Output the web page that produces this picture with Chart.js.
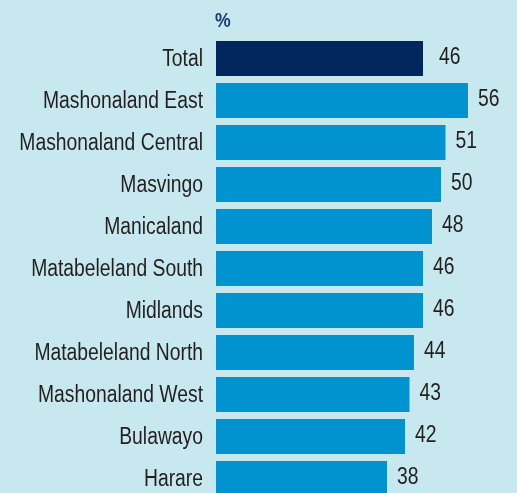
<!DOCTYPE html>
<html>
<head>
<meta charset="utf-8">
<script src="https://cdn.jsdelivr.net/npm/chart.js@4"></script>
<style>
  html, body { margin: 0; padding: 0; background: #c6e8ee; overflow: hidden; }
  #wrap { width: 517px; height: 493px; overflow: hidden; }
</style>
</head>
<body>
<div id="wrap"><canvas id="chart-0" width="517" height="520"></canvas></div>
<script>
const regions = ["Total", "Mashonaland East", "Mashonaland Central", "Masvingo", "Manicaland",
  "Matabeleland South", "Midlands", "Matabeleland North", "Mashonaland West", "Bulawayo", "Harare"];
const percents = [46, 56, 51, 50, 48, 46, 46, 44, 43, 42, 38];
const unitLabel = "%";

const FONT = "'Liberation Sans Narrow', 'Arial Narrow', 'Liberation Sans', sans-serif";
const SQUEEZE = 0.84; // fake the condensed face of the original

// region names, bar values and the "%" unit, drawn narrow
const narrowText = {
  id: "narrowText",
  afterDatasetsDraw(chart) {
    const ctx = chart.ctx;
    const meta = chart.getDatasetMeta(0);
    const yScale = chart.scales.y;
    ctx.save();
    ctx.scale(SQUEEZE, 1);
    ctx.font = "23px " + FONT;
    ctx.fillStyle = "#231f20";
    ctx.textBaseline = "middle";

    ctx.textAlign = "right";
    regions.forEach((name, i) => {
      const y = yScale.getPixelForTick(i);
      ctx.fillText(name, (chart.chartArea.left - 13) / SQUEEZE, y + 1);
    });

    ctx.textAlign = "left";
    meta.data.forEach((bar, i) => {
      const gap = i === 0 ? 16 : 10;
      ctx.fillText(String(percents[i]), (bar.x + gap) / SQUEEZE, bar.y - 1);
    });

    ctx.font = "bold 21px " + FONT;
    ctx.fillStyle = "#1b3b70";
    ctx.fillText(unitLabel, (chart.chartArea.left - 1) / SQUEEZE, 21);
    ctx.restore();
  }
};

new Chart(document.getElementById("chart-0"), {
  type: "bar",
  data: {
    labels: regions,
    datasets: [{
      data: percents,
      backgroundColor: percents.map((v, i) => i === 0 ? "#00265e" : "#0093d0"),
      borderWidth: 0,
      barPercentage: 0.833,
      categoryPercentage: 1
    }]
  },
  plugins: [narrowText],
  options: {
    indexAxis: "y",
    responsive: false,
    animation: false,
    layout: { padding: { top: 37.5, bottom: 20.5, left: 0, right: 31 } },
    plugins: { legend: { display: false }, tooltip: { enabled: false } },
    scales: {
      x: { display: false, min: 0, max: 60 },
      y: {
        grid: { display: false },
        border: { display: false },
        afterFit(scale) { scale.width = 216; },
        ticks: { display: false }
      }
    }
  }
});
</script>
</body>
</html>
